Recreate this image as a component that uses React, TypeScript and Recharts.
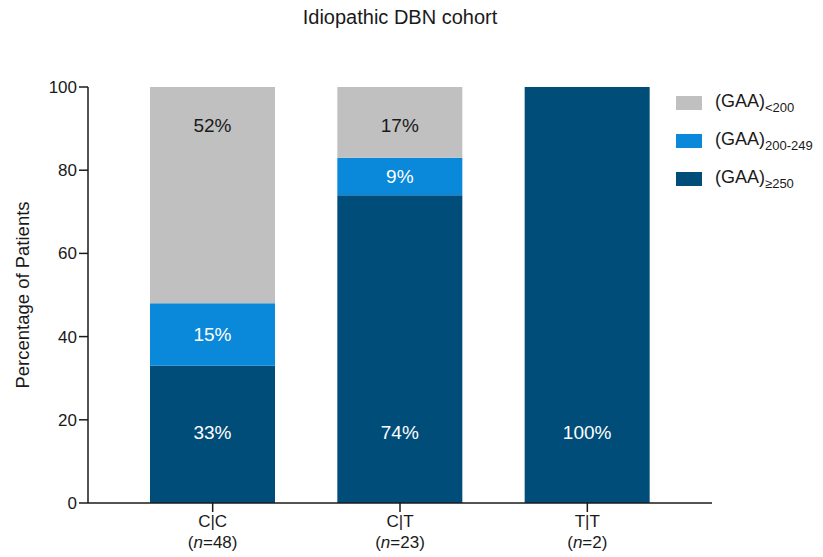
import { Bar, BarChart, LabelList, XAxis, YAxis } from "recharts";

// genotype groups and cohort sizes
const genotypes = ["C|C", "C|T", "T|T"];
const cohortN = [48, 23, 2];

// percentage of patients per repeat-length class
const gaaHigh = [33, 74, 100]; // (GAA) >= 250
const gaaMid = [15, 9, 0]; // (GAA) 200-249
const gaaLow = [52, 17, 0]; // (GAA) < 200

const yTicks = [0, 20, 40, 60, 80, 100];

const FONT = '"Liberation Sans", Arial, sans-serif';

const series = [
  { key: "low", name: "(GAA)", sub: "<200", color: "#c0c0c0" },
  { key: "mid", name: "(GAA)", sub: "200-249", color: "#0a88d9" },
  { key: "high", name: "(GAA)", sub: "≥250", color: "#014d7a" }
];

const data = genotypes.map((g, i) => ({
  genotype: g,
  n: cohortN[i],
  high: gaaHigh[i],
  mid: gaaMid[i],
  low: gaaLow[i]
}));

// label drawn near the bottom of the dark segment
function HighLabel(props: any) {
  const { x, y, width, height, value } = props;
  if (!value) return null;
  return (
    <text x={x + width / 2} y={y + height - 71} textAnchor="middle" dominantBaseline="central"
      fill="#ffffff" fontSize={19} fontFamily={FONT}>
      {value}%
    </text>
  );
}

function MidLabel(props: any) {
  const { x, y, width, height, value } = props;
  if (!value) return null;
  return (
    <text x={x + width / 2} y={y + height / 2} textAnchor="middle" dominantBaseline="central"
      fill="#ffffff" fontSize={19} fontFamily={FONT}>
      {value}%
    </text>
  );
}

// label drawn near the top of the grey segment
function LowLabel(props: any) {
  const { x, y, width, value } = props;
  if (!value) return null;
  return (
    <text x={x + width / 2} y={y + 38} textAnchor="middle" dominantBaseline="central"
      fill="#1a1a1a" fontSize={19} fontFamily={FONT}>
      {value}%
    </text>
  );
}

function GenotypeTick(props: any) {
  const { x, y, payload, index } = props;
  return (
    <text x={x} y={y} textAnchor="middle" fill="#1a1a1a" fontSize={17} fontFamily={FONT}>
      <tspan x={x} dy={13}>{payload.value}</tspan>
      <tspan x={x} dy={21}>(</tspan>
      <tspan fontStyle="italic">n</tspan>
      <tspan>={cohortN[index]})</tspan>
    </text>
  );
}

function YLabel(props: any) {
  const vb = props.viewBox || { x: 0, y: 0, height: 0 };
  const cx = vb.x + 22;
  const cy = vb.y + vb.height / 2;
  return (
    <text x={cx} y={cy} transform={`rotate(-90, ${cx}, ${cy})`} textAnchor="middle"
      dominantBaseline="central" fill="#1a1a1a" fontSize={18.5} fontFamily={FONT}>
      Percentage of Patients
    </text>
  );
}

export default function App() {
  return (
    <div style={{ position: "absolute", left: 0, top: 0, width: 823, height: 557, background: "#fff", fontFamily: FONT }}>
      <div style={{ position: "absolute", left: 0, width: 800, top: 6, textAlign: "center", fontSize: 20, color: "#1a1a1a" }}>
        Idiopathic DBN cohort
      </div>
      <BarChart
        width={823}
        height={557}
        data={data}
        margin={{ top: 87, right: 111, bottom: 0, left: 0 }}
        barSize={125}
      >
        <XAxis
          dataKey="genotype"
          height={54}
          padding={{ left: 31, right: 31 }}
          stroke="#1a1a1a"
          strokeWidth={1.5}
          tickSize={9}
          tickLine={{ stroke: "#1a1a1a", strokeWidth: 1.5 }}
          tick={<GenotypeTick />}
          interval={0}
        />
        <YAxis
          width={88}
          domain={[0, 100]}
          ticks={yTicks}
          stroke="#1a1a1a"
          strokeWidth={1.5}
          tickSize={9}
          tickLine={{ stroke: "#1a1a1a", strokeWidth: 1.5 }}
          tick={{ fill: "#1a1a1a", fontSize: 17, fontFamily: FONT }}
          label={<YLabel />}
        />
        <Bar dataKey="high" stackId="a" fill={series[2].color} isAnimationActive={false}>
          <LabelList dataKey="high" content={<HighLabel />} />
        </Bar>
        <Bar dataKey="mid" stackId="a" fill={series[1].color} isAnimationActive={false}>
          <LabelList dataKey="mid" content={<MidLabel />} />
        </Bar>
        <Bar dataKey="low" stackId="a" fill={series[0].color} isAnimationActive={false}>
          <LabelList dataKey="low" content={<LowLabel />} />
        </Bar>
      </BarChart>
      <div style={{ position: "absolute", left: 676, top: 84 }}>
        {series.map((s) => (
          <div key={s.key} style={{ display: "flex", alignItems: "center", height: 38 }}>
            <div style={{ width: 26, height: 14, background: s.color, marginRight: 13 }} />
            <span style={{ fontSize: 18, color: "#1a1a1a", whiteSpace: "nowrap" }}>
              {s.name}
              <sub style={{ fontSize: 13 }}>{s.sub}</sub>
            </span>
          </div>
        ))}
      </div>
    </div>
  );
}
